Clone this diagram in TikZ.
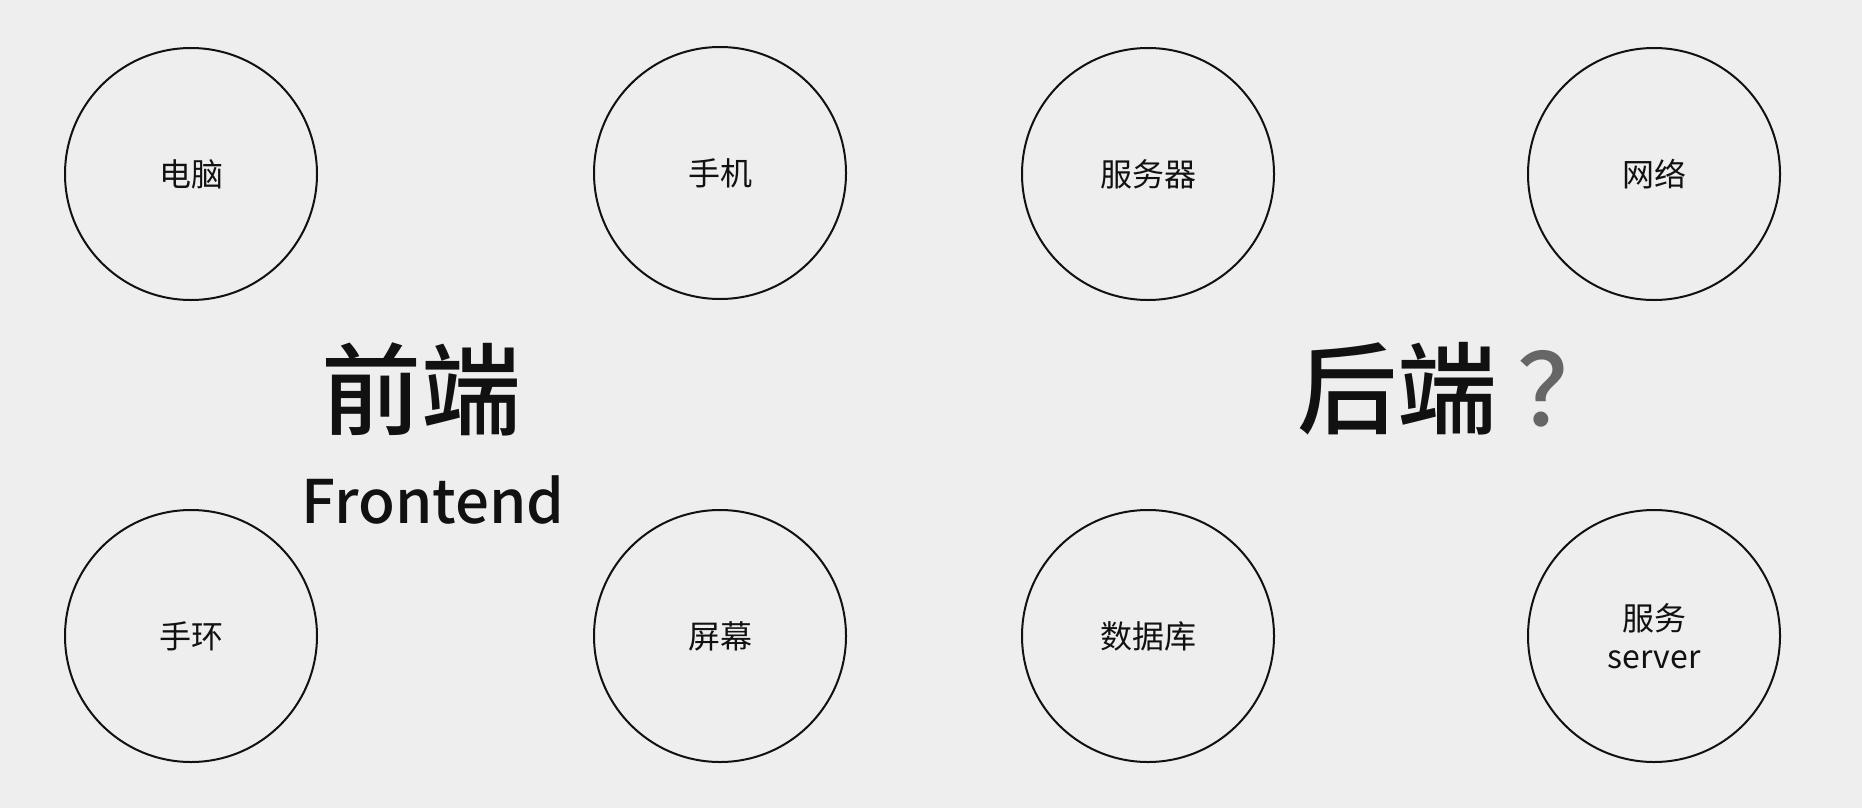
\documentclass[tikz,border=0pt]{standalone}
\usepackage{fontspec}
\setmainfont{Noto Sans CJK SC}
\newfontfamily\medfont{Noto Sans CJK SC Medium}
\definecolor{bg}{HTML}{EEEEEE}
\definecolor{ink}{HTML}{111111}
\definecolor{qgray}{HTML}{666666}
\begin{document}
\begin{tikzpicture}[x=1pt,y=-1pt,
  item/.style={circle,draw=ink,line width=2pt,minimum size=252pt,inner sep=0pt,
    align=center,text=ink,font=\fontsize{32}{38}\selectfont},
  big/.style={inner sep=0pt,text=ink,font=\medfont\fontsize{100}{110}\selectfont},
  latin/.style={inner sep=0pt,text=ink,font=\medfont\fontsize{60}{70}\selectfont}]
\fill[bg] (0,0) rectangle (1862,808);
\useasboundingbox (0,0) rectangle (1862,808);
\node[item] (pc) at (191,174) {电脑};
\node[item] (phone) at (720,173) {手机};
\node[item] (srv) at (1148,174) {服务器};
\node[item] (net) at (1654,174) {网络};
\node[item] (band) at (191,636) {手环};
\node[item] (screen) at (720,636) {屏幕};
\node[item] (db) at (1148,636) {数据库};
\node[item] (service) at (1654,636) {服务\\server};
\node[big] (fe) at (421,389) {前端};
\node[latin,anchor=base] (fen) at (433,523) {Frontend};
\node[big] (be) at (1397,389) {后端};
\node[big,text=qgray] (q) at (1567,389) {？};
\end{tikzpicture}
\end{document}
